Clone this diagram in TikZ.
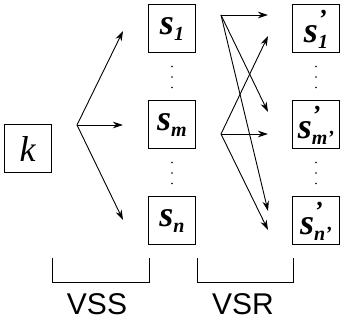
\documentclass[tikz,border=0pt]{standalone}
\usepackage{fontspec}
\setmainfont{Liberation Serif}
\newfontfamily\labfont{Liberation Sans}
\usetikzlibrary{arrows.meta}
\usetikzlibrary{calc}

\newcommand{\subfont}{\fontsize{20}{20}\selectfont\bfseries\itshape}
\newcommand{\sv}[1]{\textbf{\textit{s}}\raisebox{-6pt}{\subfont #1}}
\newcommand{\svp}[1]{\textbf{\textit{s}}\rlap{\raisebox{15pt}{\fontsize{26}{26}\selectfont\bfseries\itshape ’}}\raisebox{-6pt}{\subfont #1}}

\begin{document}
\begin{tikzpicture}[x=1pt,y=-1pt]
   \tikzset{box/.style={draw, line width=1pt, minimum width=47pt, minimum height=48pt, inner sep=0pt, font=\fontsize{36}{36}\selectfont}}
   \tikzset{edge/.style={line width=0.9pt, -{Stealth[length=10pt,width=6.5pt]}}}
   \tikzset{brace/.style={line width=0.9pt}}
   \useasboundingbox (0,0) rectangle (341,323);
   % boxes
   \node[box] (k) at (28,149) {\textit{k}};
   \node[box] (s1) at (172,29) {\sv{1}};
   \node[box] (sm) at (172,125) {\sv{m}};
   \node[box] (sn) at (172,221) {\sv{n}};
   \node[box] (t1) at (316,29) {\svp{1}};
   \node[box] (tm) at (316,125) {\svp{m’}};
   \node[box] (tn) at (316,221) {\svp{n’}};
   % dots
   \foreach \a/\b in {s1/sm, sm/sn, t1/tm, tm/tn}
      \foreach \f in {0.39,0.5,0.61}
         \fill ($(\a)!\f!(\b)$) circle (0.9);
   % VSS
   \coordinate (f) at (77,125);
   \coordinate (a1) at (123,31);
   \coordinate (a2) at (123,125);
   \coordinate (a3) at (123,220);
   \draw[edge] (f) -- (a1);
   \draw[edge] (f) -- (a2);
   \draw[edge] (f) -- (a3);
   % VSR
   \coordinate (g1) at (221,15);
   \coordinate (g2) at (221,134);
   \coordinate (b1) at (268,15);
   \coordinate (b2) at (268,112);
   \coordinate (b3) at (268,211);
   \coordinate (c1) at (268,36);
   \coordinate (c2) at (268,134);
   \coordinate (c3) at (268,230);
   \draw[edge] (g1) -- (b1);
   \draw[edge] (g1) -- (b2);
   \draw[edge] (g1) -- (b3);
   \draw[edge] (g2) -- (c1);
   \draw[edge] (g2) -- (c2);
   \draw[edge] (g2) -- (c3);
   % brackets
   \coordinate (p1) at (52,258);
   \coordinate (p2) at (149,258);
   \coordinate (q1) at (197,258);
   \coordinate (q2) at (293,258);
   \draw[brace] (p1) -- ++(0,24) -| (p2);
   \draw[brace] (q1) -- ++(0,24) -| (q2);
   \node[font=\labfont\fontsize{30}{30}\selectfont, anchor=base] (vss) at (97,315) {VSS};
   \node[font=\labfont\fontsize{30}{30}\selectfont, anchor=base] (vsr) at (243,315) {VSR};
\end{tikzpicture}
\end{document}
